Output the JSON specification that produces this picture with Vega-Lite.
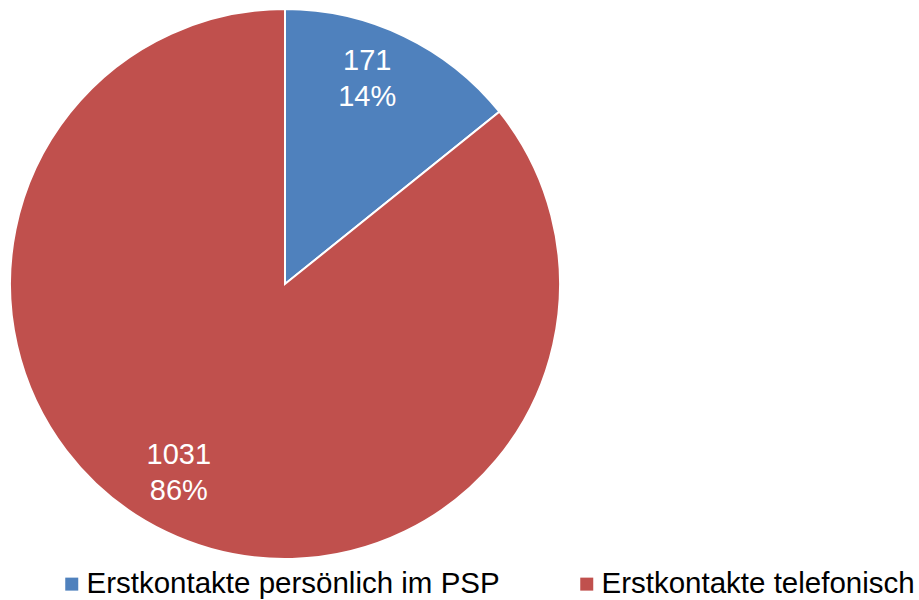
{
  "$schema": "https://vega.github.io/schema/vega-lite/v6.json",
  "autosize": "none",
  "width": 570,
  "height": 568,
  "padding": {"left": 0, "top": 0, "right": 349, "bottom": 32},
  "background": "white",
  "data": {
    "values": [
      {"kategorie": "Erstkontakte persönlich im PSP", "anzahl": 171, "label": ["171", "14%"]},
      {"kategorie": "Erstkontakte telefonisch", "anzahl": 1031, "label": ["1031", "86%"]}
    ]
  },
  "encoding": {
    "theta": {"field": "anzahl", "type": "quantitative", "stack": true},
    "order": {"field": "kategorie", "type": "nominal", "sort": "ascending"}
  },
  "layer": [
    {
      "mark": {"type": "arc", "outerRadius": 275, "stroke": "white", "strokeWidth": 2},
      "encoding": {
        "color": {
          "field": "kategorie",
          "type": "nominal",
          "scale": {
            "domain": ["Erstkontakte persönlich im PSP", "Erstkontakte telefonisch"],
            "range": ["#4F81BD", "#C0504D"]
          },
          "legend": {
            "title": null,
            "orient": "none",
            "legendX": 57,
            "legendY": 569,
            "direction": "horizontal",
            "columns": 2,
            "columnPadding": 72,
            "symbolType": "square",
            "symbolSize": 169,
            "symbolStrokeWidth": 0,
            "labelFont": "Liberation Sans",
            "labelFontSize": 29.5,
            "labelColor": "black",
            "labelOffset": 0,
            "labelLimit": 0,
            "padding": 0
          }
        }
      }
    },
    {
      "mark": {
        "type": "text",
        "radius": 218,
        "font": "Liberation Sans",
        "fontSize": 29,
        "lineHeight": 36,
        "color": "white",
        "align": "center",
        "baseline": "middle",
        "dx": -12,
        "dy": -26
      },
      "encoding": {
        "text": {"field": "label"}
      }
    }
  ],
  "config": {"view": {"stroke": null}}
}
